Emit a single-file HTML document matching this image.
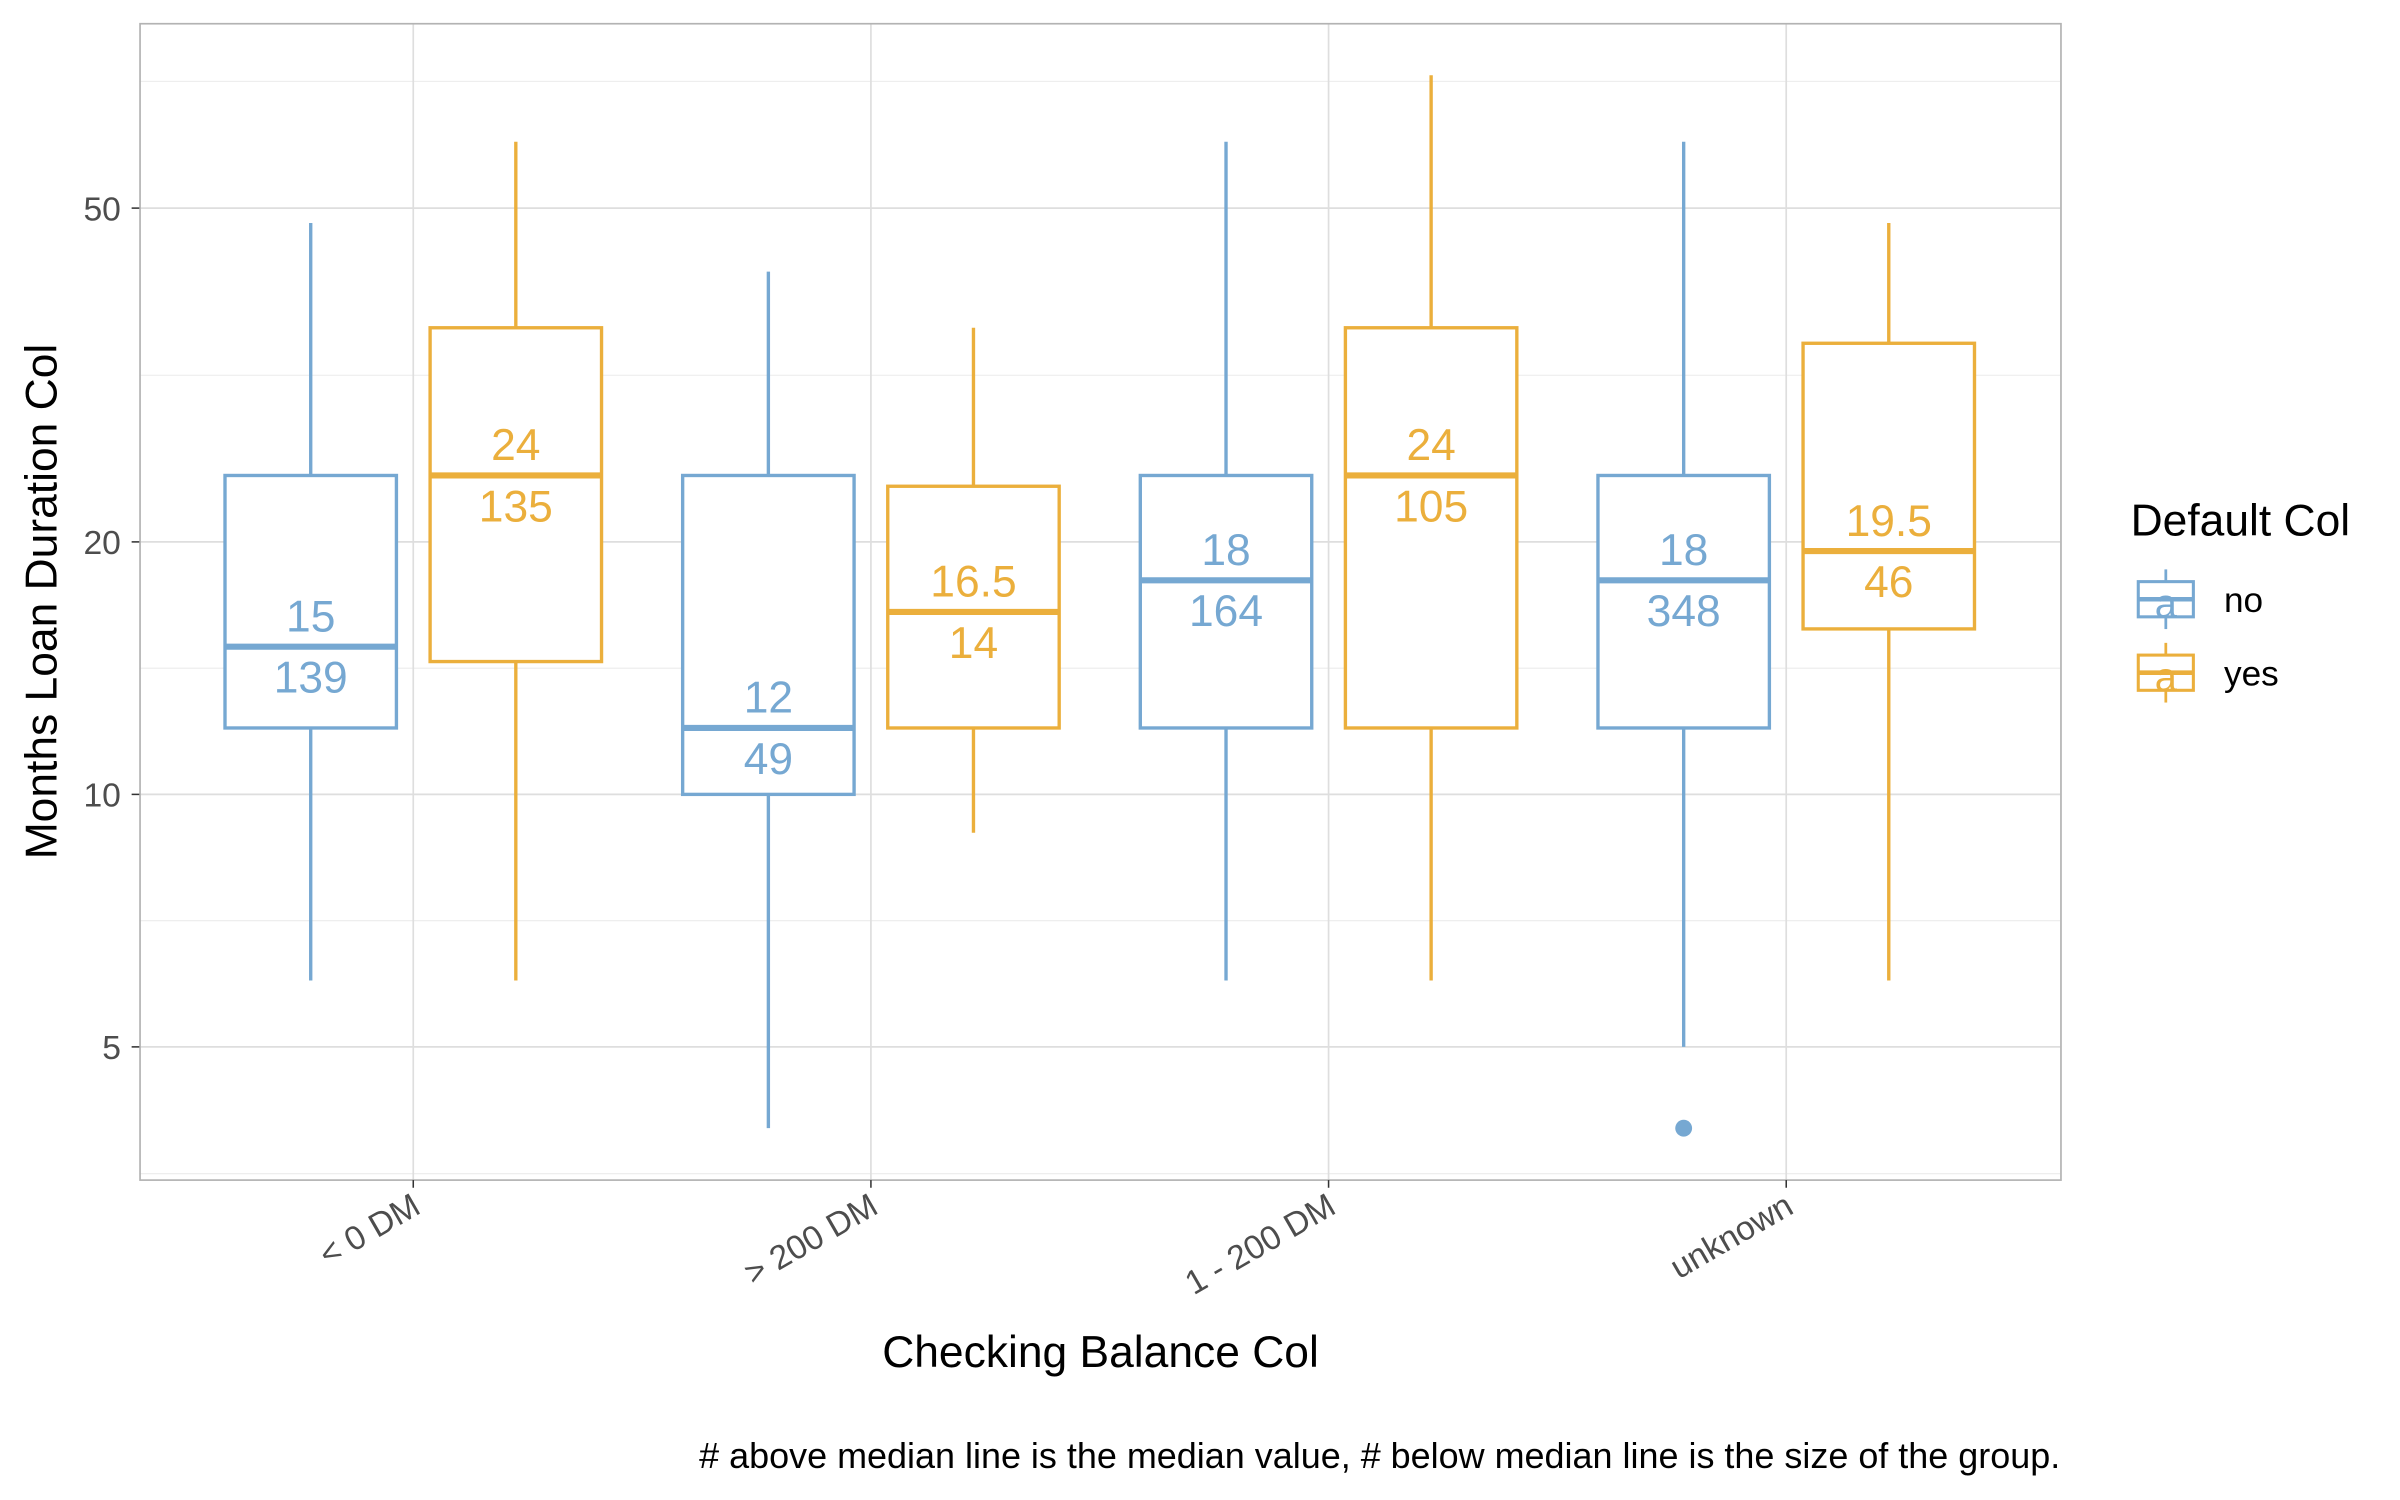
<!DOCTYPE html>
<html><head><meta charset="utf-8"><style>
html,body{margin:0;padding:0;background:#fff}
svg{display:block}
text{font-family:"Liberation Sans",Arial,sans-serif}
</style></head><body>
<svg id="chart" width="2400" height="1500" viewBox="0 0 1568 980" xmlns="http://www.w3.org/2000/svg">
<g id="grid"></g>
<g id="boxes"></g>
<rect x="91.5" y="15.5" width="1255" height="755.5" fill="none" stroke="#b3b3b3" stroke-width="1.1"/>
<g id="axes"></g>
<text x="719" y="893" text-anchor="middle" font-size="29" fill="#000">Checking Balance Col</text>
<text transform="translate(37,393) rotate(-90)" text-anchor="middle" font-size="29" fill="#000">Months Loan Duration Col</text>
<g>
<text x="1392" y="350" font-size="29" fill="#000">Default Col</text>
<g>
<line x1="1415" y1="372" x2="1415" y2="411" stroke="#76a8d2" stroke-width="1.8"/>
<rect x="1397" y="380" width="36" height="23" fill="#fff" stroke="#76a8d2" stroke-width="2"/>
<line x1="1397" y1="391.5" x2="1433" y2="391.5" stroke="#76a8d2" stroke-width="3"/>
<text x="1415" y="403" text-anchor="middle" font-size="26" fill="#76a8d2">a</text>
<text x="1453" y="400" font-size="23" fill="#000">no</text>
</g>
<g>
<line x1="1415" y1="420" x2="1415" y2="459" stroke="#ebaf3c" stroke-width="1.8"/>
<rect x="1397" y="428" width="36" height="23" fill="#fff" stroke="#ebaf3c" stroke-width="2"/>
<line x1="1397" y1="439.5" x2="1433" y2="439.5" stroke="#ebaf3c" stroke-width="3"/>
<text x="1415" y="451" text-anchor="middle" font-size="26" fill="#ebaf3c">a</text>
<text x="1453" y="448" font-size="23" fill="#000">yes</text>
</g>
</g>
<text x="1346" y="959" text-anchor="end" font-size="23.5" fill="#000"># above median line is the median value, # below median line is the size of the group.</text>
</svg>
<script>
const categories = ["< 0 DM", "> 200 DM", "1 - 200 DM", "unknown"];
const groups = ["no", "yes"];
const lowWhisker = [[6, 6], [4, 9], [6, 6], [5, 6]];
const q1 = [[12, 14.4], [10, 12], [12, 12], [12, 15.75]];
const medians = [[15, 24], [12, 16.5], [18, 24], [18, 19.5]];
const q3 = [[24, 36], [24, 23.3], [24, 36], [24, 34.5]];
const highWhisker = [[48, 60], [42, 36], [60, 72], [60, 48]];
const counts = [[139, 135], [49, 14], [164, 105], [348, 46]];
const outliers = [[[], []], [[], []], [[], []], [[4], []]];
const yTicks = [5, 10, 20, 50];
const yMinor = [3.53, 7.07, 14.14, 31.6, 70.8];

const NS = "http://www.w3.org/2000/svg";
const colors = ["#76a8d2", "#ebaf3c"];
function y(v){ return 519 - 548 * Math.log10(v / 10); }
function xc(i){ return 270 + i * 299; }
function mk(tag, attrs, parent){ const e = document.createElementNS(NS, tag); for (const k in attrs) e.setAttribute(k, attrs[k]); parent.appendChild(e); return e; }
const grid = document.getElementById("grid"), boxes = document.getElementById("boxes"), axes = document.getElementById("axes");
yMinor.forEach(v => {
  const l = mk("line", {x1: 91, x2: 1346, y1: y(v), y2: y(v), stroke: "#ebebeb", "stroke-width": 0.7}, grid);
  
  
});
yTicks.forEach(v => {
  const l = mk("line", {x1: 91, x2: 1346, y1: y(v), y2: y(v), stroke: "#dedede", "stroke-width": 1.1}, grid);
  
  
  mk("line", {x1: 86, x2: 91, y1: y(v), y2: y(v), stroke: "#333", "stroke-width": 1}, axes);
  const t = mk("text", {x: 79, y: y(v) + 8, "text-anchor": "end", "font-size": 22, fill: "#4d4d4d"}, axes);
  t.textContent = v;
  
  
});
categories.forEach((c, i) => {
  const l = mk("line", {x1: xc(i), x2: xc(i), y1: 15, y2: 771, stroke: "#dedede", "stroke-width": 1.1}, grid);
  
  
  mk("line", {x1: xc(i), x2: xc(i), y1: 771, y2: 776, stroke: "#333", "stroke-width": 1}, axes);
  const t = mk("text", {x: xc(i) + 6, y: 792, "text-anchor": "end", "font-size": 22, fill: "#4d4d4d", transform: `rotate(-30 ${xc(i) + 6} 792)`}, axes);
  t.textContent = c;
  
  
  groups.forEach((g, j) => {
    const cx = xc(i) + (j === 0 ? -67 : 67), col = colors[j], w = 56;
    const gr = mk("g", {}, boxes);
    
    
    mk("line", {x1: cx, x2: cx, y1: y(q3[i][j]), y2: y(highWhisker[i][j]), stroke: col, "stroke-width": 2.2}, gr);
    mk("line", {x1: cx, x2: cx, y1: y(q1[i][j]), y2: y(lowWhisker[i][j]), stroke: col, "stroke-width": 2.2}, gr);
    mk("rect", {x: cx - w, y: y(q3[i][j]), width: 2 * w, height: y(q1[i][j]) - y(q3[i][j]), fill: "#fff", stroke: col, "stroke-width": 2.2}, gr);
    mk("line", {x1: cx - w, x2: cx + w, y1: y(medians[i][j]), y2: y(medians[i][j]), stroke: col, "stroke-width": 4}, gr);
    outliers[i][j].forEach(o => mk("circle", {cx: cx, cy: y(o), r: 5.5, fill: col}, gr));
    const mt = mk("text", {x: cx, y: y(medians[i][j]) - 10, "text-anchor": "middle", "font-size": 29, fill: col}, gr);
    mt.textContent = medians[i][j];
    
    
    const nt = mk("text", {x: cx, y: y(medians[i][j]) + 30, "text-anchor": "middle", "font-size": 29, fill: col}, gr);
    nt.textContent = counts[i][j];
    
    
  });
});
</script>
</body></html>
